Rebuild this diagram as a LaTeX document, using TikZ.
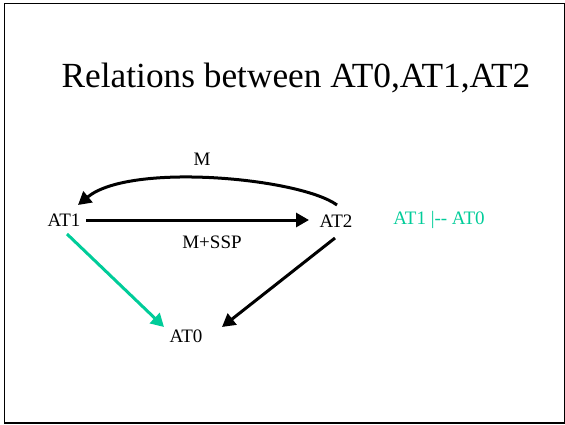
\documentclass[tikz,border=0pt]{standalone}
\usepackage{fontspec}
\setmainfont{Liberation Serif}
\usetikzlibrary{arrows.meta,calc}
\definecolor{tealgreen}{RGB}{0,204,153}
\tikzset{
  lbl/.style={inner sep=0pt, font=\fontsize{19}{21}\selectfont},
  arr/.style={line width=3pt, -{Triangle[length=13pt,width=14pt]}},
}
\begin{document}
\begin{tikzpicture}[x=1pt,y=-1pt]
\useasboundingbox (0,0) rectangle (565,424);
\draw[line width=1.5pt] (4.5,3.5) rectangle (565,423);
\node[inner sep=0pt, anchor=base, font=\fontsize{35.3}{39}\selectfont] (title) at (296,87) {Relations between AT0,AT1,AT2};
\node[lbl] (at1) at (64,220) {AT1};
\node[lbl] (at2) at (336,221) {AT2};
\node[lbl] (at0) at (186,336) {AT0};
\node[lbl] (m) at (202,159) {M};
\node[lbl] (mssp) at (212,242) {M+SSP};
\node[lbl, text=tealgreen] (rel) at (439,220) {AT1 |{-}{-} AT0};
\draw[arr] ($(at1)+(22,0)$) -- ($(at2)+(-27,-1)$);
\draw[arr] ($(at2)+(1,-16)$) .. controls (300,178) and (130,162) .. ($(at1)+(14,-15)$);
\draw[arr] ($(at2)+(-1,17)$) -- ($(at0)+(36,-9)$);
\draw[arr, tealgreen] ($(at1)+(3,14)$) -- ($(at0)+(-22,-9)$);
\end{tikzpicture}
\end{document}
